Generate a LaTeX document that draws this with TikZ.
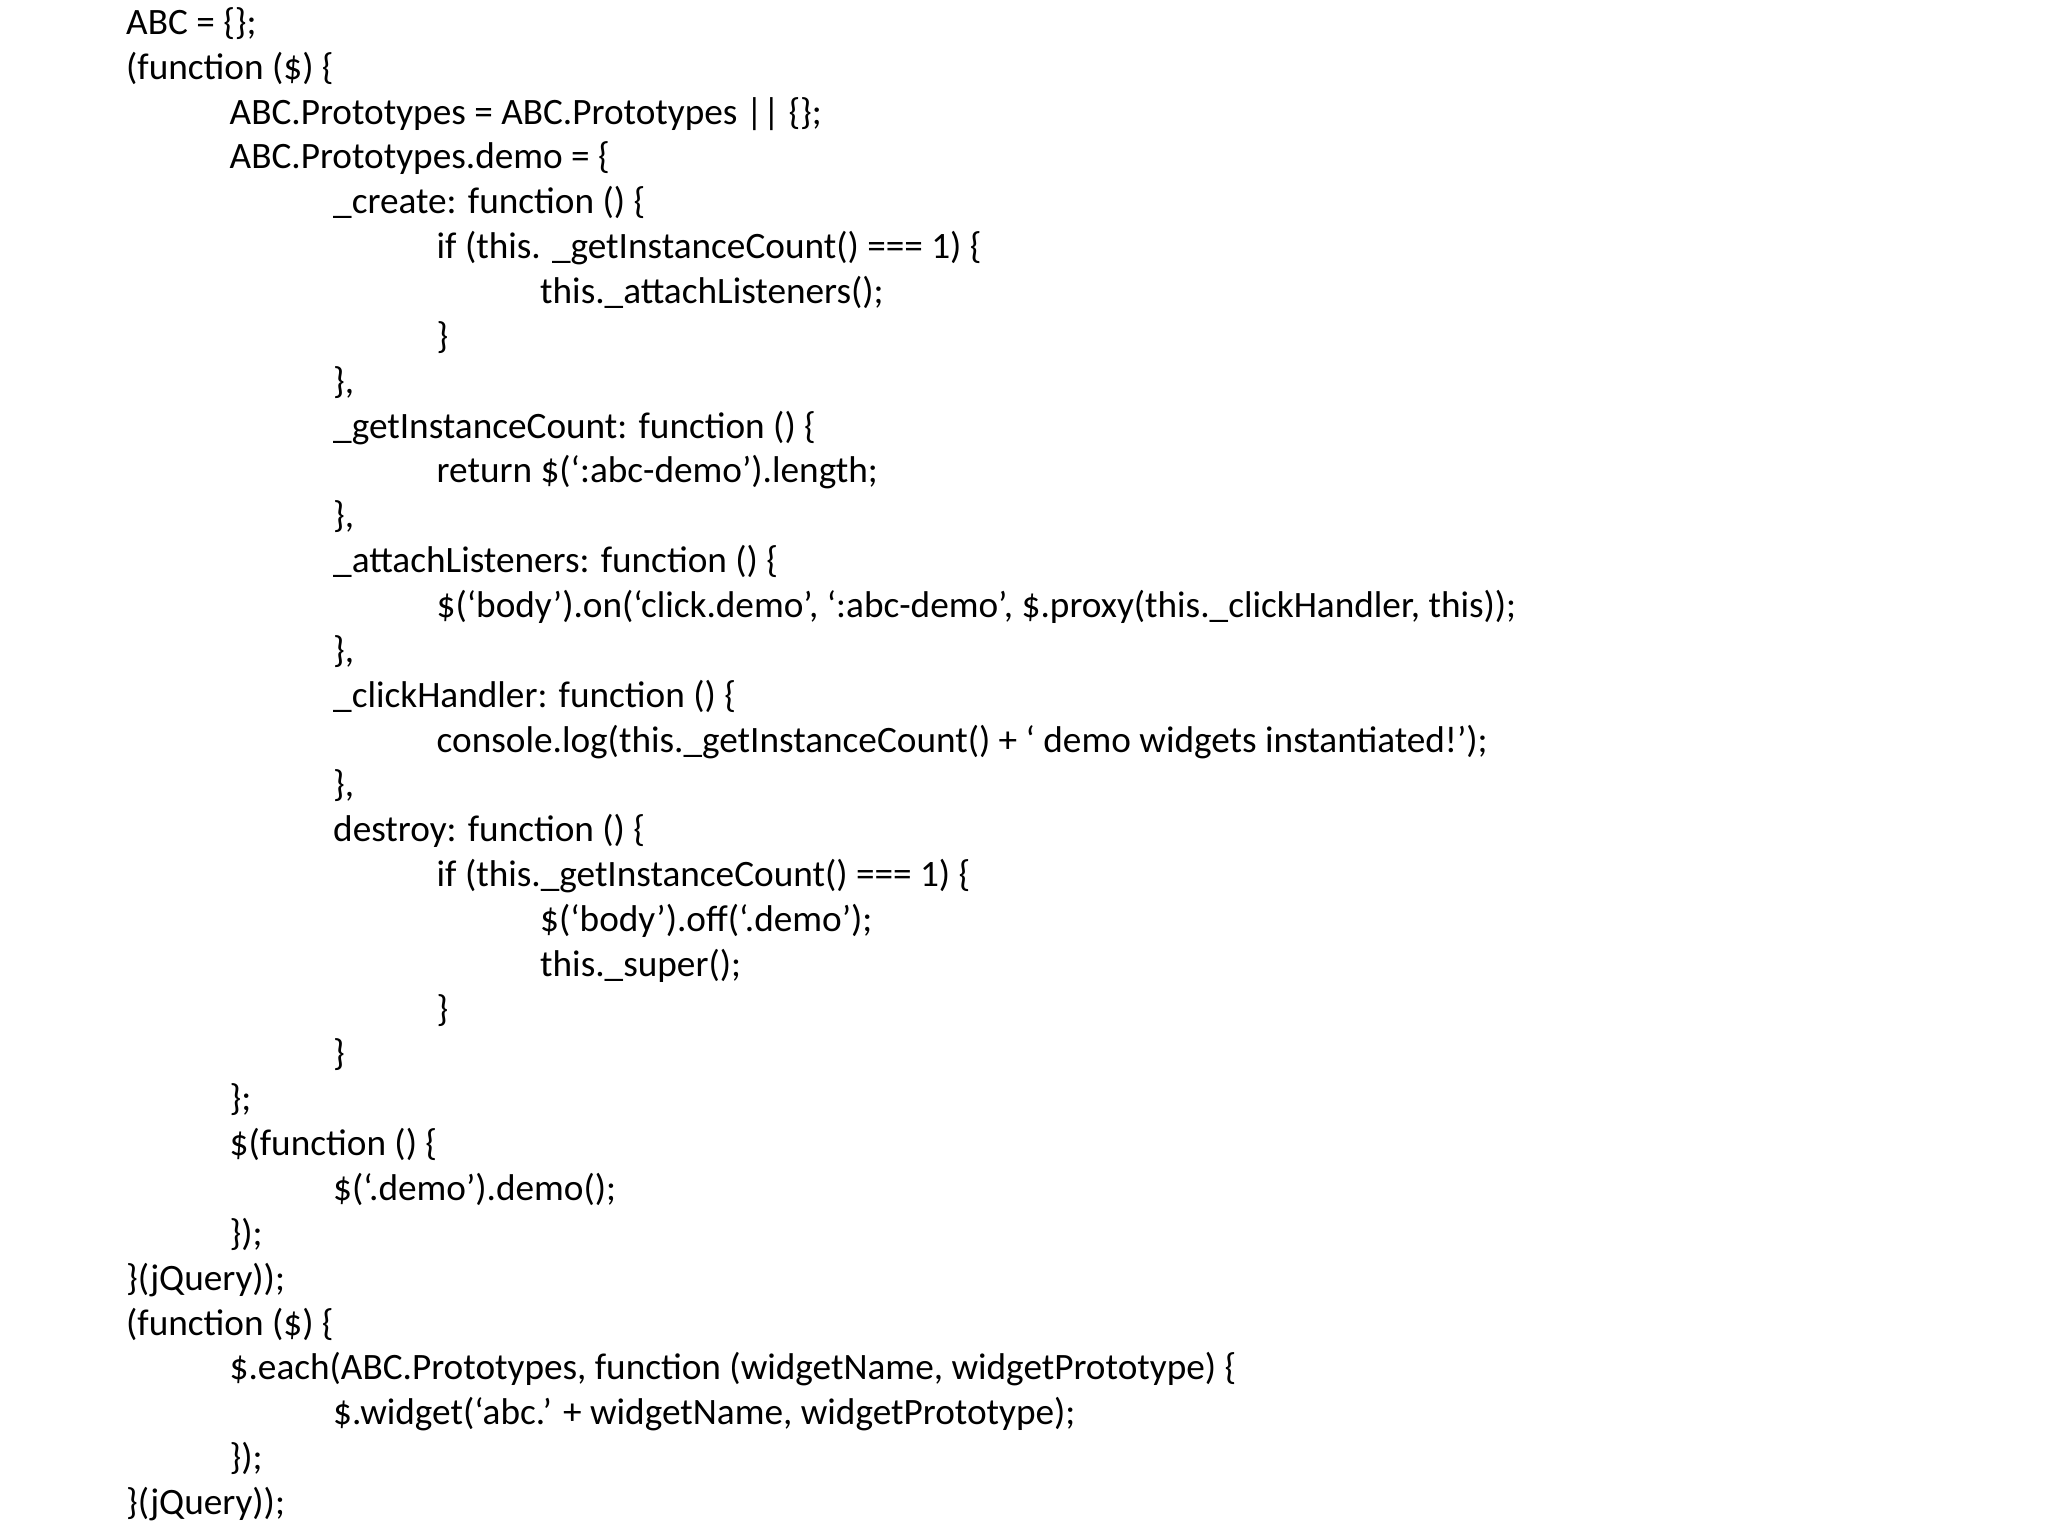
\documentclass[tikz,border=0pt]{standalone}
\usepackage{fontspec}
\setmainfont{Carlito}
\begin{document}
\begin{tikzpicture}[x=1cm,y=-1cm,code/.style={anchor=west,inner sep=0pt,font=\fontsize{10.6pt}{12pt}\selectfont}]
\useasboundingbox (0,0) rectangle (20.48,15.36);
\newcommand\codeln[3]{\node[code] (l#1) at ({1.255+1.035*#2},{0.26+0.4485*(#1-1)}) {\strut #3};}
\codeln{1}{0}{ABC = \{\};}
\codeln{2}{0}{(function (\$) \{}
\codeln{3}{1}{ABC.Prototypes = ABC.Prototypes || \{\};}
\codeln{4}{1}{ABC.Prototypes.demo = \{}
\codeln{5}{2}{\_create: function () \{}
\codeln{6}{3}{if (this. \_getInstanceCount() === 1) \{}
\codeln{7}{4}{this.\_attachListeners();}
\codeln{8}{3}{\}}
\codeln{9}{2}{\},}
\codeln{10}{2}{\_getInstanceCount: function () \{}
\codeln{11}{3}{return \$(‘:abc-demo’).length;}
\codeln{12}{2}{\},}
\codeln{13}{2}{\_attachListeners: function () \{}
\codeln{14}{3}{\$(‘body’).on(‘click.demo’, ‘:abc-demo’, \$.proxy(this.\_clickHandler, this));}
\codeln{15}{2}{\},}
\codeln{16}{2}{\_clickHandler: function () \{}
\codeln{17}{3}{console.log(this.\_getInstanceCount() + ‘ demo widgets instantiated!’);}
\codeln{18}{2}{\},}
\codeln{19}{2}{destroy: function () \{}
\codeln{20}{3}{if (this.\_getInstanceCount() === 1) \{}
\codeln{21}{4}{\$(‘body’).off(‘.demo’);}
\codeln{22}{4}{this.\_super();}
\codeln{23}{3}{\}}
\codeln{24}{2}{\}}
\codeln{25}{1}{\};}
\codeln{26}{1}{\$(function () \{}
\codeln{27}{2}{\$(‘.demo’).demo();}
\codeln{28}{1}{\});}
\codeln{29}{0}{\}(jQuery));}
\codeln{30}{0}{(function (\$) \{}
\codeln{31}{1}{\$.each(ABC.Prototypes, function (widgetName, widgetPrototype) \{}
\codeln{32}{2}{\$.widget(‘abc.’ + widgetName, widgetPrototype);}
\codeln{33}{1}{\});}
\codeln{34}{0}{\}(jQuery));}
\end{tikzpicture}
\end{document}
